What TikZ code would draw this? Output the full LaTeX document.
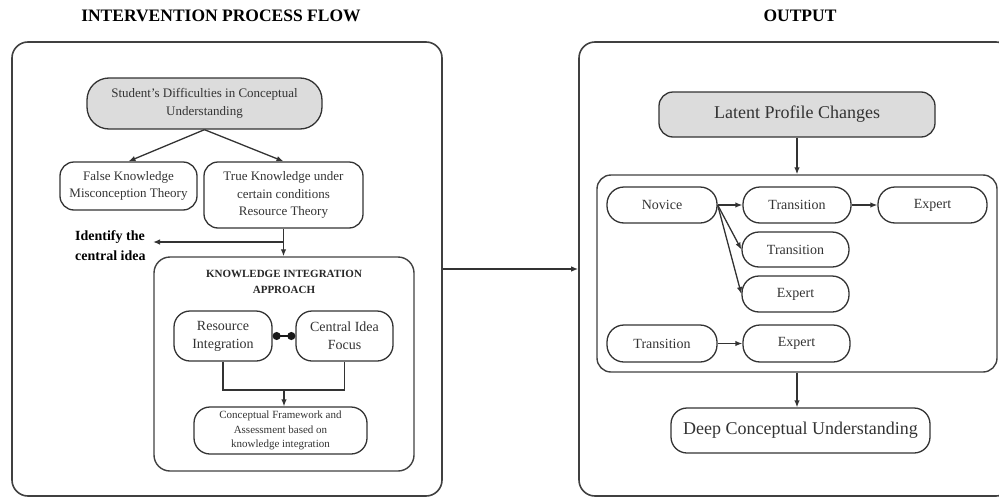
\documentclass[tikz,border=0pt]{standalone}
\usepackage{fontspec}
\setmainfont{Liberation Serif}
\usetikzlibrary{arrows.meta}
\definecolor{boxgray}{HTML}{DCDCDC}
\definecolor{ink}{HTML}{333333}
\begin{document}
\begin{tikzpicture}[x=1pt,y=-1pt,
  every node/.style={inner sep=0pt, text=ink},
  bx/.style={draw=black!80, line width=1.3pt, rounded corners=#1, align=center},
  bx/.default=15pt,
  panel/.style={draw=black!75, line width=1.6pt, rounded corners=16pt},
  arr/.style={draw=black!80, line width=1.3pt, -{Latex[length=7pt,width=5.5pt]}},
  ln/.style={draw=black!80, line width=1.3pt},
  dotln/.style={draw=black!90, line width=1.4pt, {Circle[length=8pt]}-{Circle[length=8pt]}},
  ttl/.style={font=\fontsize{17.5}{20}\selectfont\bfseries, text=black},
  fsm/.style={font=\fontsize{13}{17.5}\selectfont},
  fmd/.style={font=\fontsize{14}{18}\selectfont},
  fxs/.style={font=\fontsize{11}{14.5}\selectfont},
  flg/.style={font=\fontsize{18}{22}\selectfont}
]
\useasboundingbox (0,0) rectangle (999,498);

% titles
\node[ttl] (t1title) at (221,16) {INTERVENTION PROCESS FLOW};
\node[ttl] (t2title) at (800,16) {OUTPUT};

% outer panels
\node[panel, minimum width=430, minimum height=454] (lo) at (227,269) {};
\node[panel, minimum width=433, minimum height=454] (ro) at (795.5,269) {};

% left panel
\node[bx=22pt, fill=boxgray, minimum width=235, minimum height=51, fsm] (sd) at (204.5,103.5)
  {Student's Difficulties in Conceptual\\Understanding};
\node[bx=14pt, minimum width=137, minimum height=48, fsm] (fk) at (128.5,186)
  {False Knowledge\\Misconception Theory};
\node[bx=14pt, minimum width=159, minimum height=66, fsm] (tk) at (283.5,195)
  {True Knowledge under\\certain conditions\\Resource Theory};
\node[anchor=west, align=left, font=\fontsize{14}{20}\selectfont\bfseries, text=black] (idt) at (75,246)
  {Identify the\\central idea};

\node[panel, line width=1.4pt, minimum width=260, minimum height=214] (kia) at (284,364) {};
\node[font=\fontsize{11}{16}\selectfont\bfseries, align=center, text=black!85] (kiat) at (284,282)
  {KNOWLEDGE INTEGRATION\\APPROACH};
\node[bx=16pt, minimum width=98, minimum height=50, fmd] (ri) at (223,336)
  {Resource\\Integration};
\node[bx=16pt, minimum width=97, minimum height=50, fmd] (cif) at (344.5,336)
  {Central Idea\\Focus};
\node[bx=16pt, minimum width=173, minimum height=47, fxs] (cfa) at (280.5,430.5)
  {Conceptual Framework and\\Assessment based on\\knowledge integration};

% left connectors
\draw[arr] (sd.south) -- (fk.north);
\draw[arr] (sd.south) -- (tk.north);
\draw[arr] (tk.south) -- (tk.south |- kia.north);
\coordinate (br) at (283.5,242);
\coordinate (idl) at (153,242);
\draw[arr] (br) -- (idl);
\draw[dotln] (ri.east) -- (cif.west);
\coordinate (jn) at (284,390);
\draw[ln] (ri.south) |- (jn) -| (cif.south);
\draw[arr] (jn) -- (jn |- cfa.north);

% right panel
\node[bx=14pt, fill=boxgray, minimum width=276, minimum height=45, flg] (lpc) at (797,114.5)
  {Latent Profile Changes};
\node[panel, line width=1.4pt, rounded corners=14pt, minimum width=400, minimum height=197] (inner) at (797,273.5) {};
\node[bx=17pt, minimum width=110, minimum height=36, fmd] (nov) at (662,205) {Novice};
\node[bx=17pt, minimum width=108, minimum height=36, fmd] (tr1) at (797,205) {Transition};
\node[bx=17pt, minimum width=109, minimum height=36, fmd] (ex1) at (932.5,205) {Expert};
\node[bx=17pt, minimum width=107, minimum height=35, fmd] (tr2) at (795.5,249.5) {Transition};
\node[bx=17pt, minimum width=107, minimum height=36, fmd] (ex2) at (795.5,294) {Expert};
\node[bx=17pt, minimum width=110, minimum height=37, fmd] (tr3) at (662,343.5) {Transition};
\node[bx=17pt, minimum width=107, minimum height=37, fmd] (ex3) at (796.5,343.5) {Expert};
\node[bx=16pt, minimum width=259, minimum height=45, flg] (dcu) at (800.5,430.5)
  {Deep Conceptual Understanding};

% right connectors
\draw[arr] (lo.east) -- (ro.west |- lo.east);
\draw[arr] (lpc.south) -- (lpc.south |- inner.north);
\draw[arr] (nov.east) -- (tr1.west);
\draw[arr] (nov.east) -- (tr2.west);
\draw[arr] (nov.east) -- (ex2.west);
\draw[arr] (tr1.east) -- (ex1.west);
\draw[arr] (tr3.east) -- (ex3.west);
\draw[arr] (inner.south) -- (inner.south |- dcu.north);
\end{tikzpicture}
\end{document}
